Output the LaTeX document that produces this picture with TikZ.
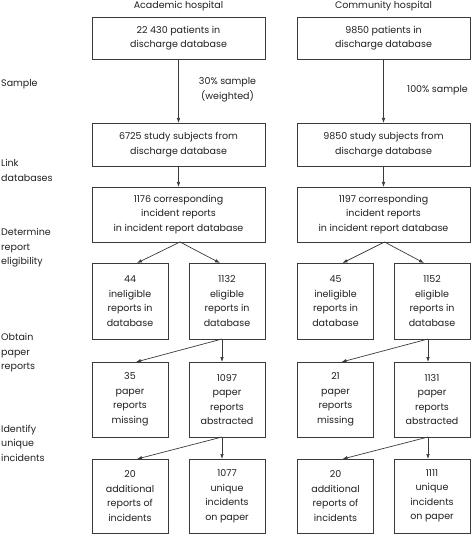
\documentclass[tikz,border=0pt]{standalone}
\usepackage{fontspec}
\setmainfont{Poppins}
\usetikzlibrary{arrows.meta}
\definecolor{boxc}{HTML}{3A3A3A}
\definecolor{txt}{HTML}{231F20}
\newcommand\boxfont{\fontsize{9.5}{14.5}\selectfont}
\begin{document}
\begin{tikzpicture}[x=1pt,y=-1pt,
  box/.style={draw=boxc, line width=0.9pt, inner sep=0pt, outer sep=0pt, align=center, font=\boxfont, text=txt},
  wide/.style={box, minimum width=173pt},
  small/.style={box, minimum width=76pt},
  lbl/.style={inner sep=0pt, font=\boxfont, text=txt, align=center},
  side/.style={inner sep=0pt, font=\boxfont, text=txt, align=left, anchor=west},
  arr/.style={draw=boxc, line width=0.7pt, -{Latex[length=5pt,width=3.6pt]}}]
\useasboundingbox (0,0) rectangle (471,534);
% headers
\node[lbl] (hA) at (178.5,6) {Academic hospital};
\node[lbl] (hC) at (383.5,6) {Community hospital};
% side labels
\node[side] (s1) at (1,84) {Sample};
\node[side] (s2) at (1,170.5) {Link\\databases};
\node[side] (s3) at (1,248) {Determine\\report\\eligibility};
\node[side] (s4) at (1,353) {Obtain\\paper\\reports};
\node[side] (s5) at (1,443) {Identify\\unique\\incidents};
% academic column
\node[wide, minimum height=42pt] (a1) at (178.5,38) {22 430 patients in\\discharge database};
\node[wide, minimum height=43pt] (a2) at (178.5,144.5) {6725 study subjects from\\discharge database};
\node[wide, minimum height=55pt] (a3) at (178.5,214.5) {1176 corresponding\\incident reports\\in incident report database};
\node[small, minimum height=76pt] (a4) at (130,301) {44\\ineligible\\reports in\\database};
\node[small, minimum height=76pt] (a5) at (227,301) {1132\\eligible\\reports in\\database};
\node[small, minimum height=75pt] (a6) at (130,399.5) {35\\paper\\reports\\missing};
\node[small, minimum height=75pt] (a7) at (227,399.5) {1097\\paper\\reports\\abstracted};
\node[small, minimum height=74pt] (a8) at (130,496) {20\\additional\\reports of\\incidents};
\node[small, minimum height=74pt] (a9) at (227,496) {1077\\unique\\incidents\\on paper};
% community column
\node[wide, minimum height=42pt] (c1) at (383.5,38) {9850 patients in\\discharge database};
\node[wide, minimum height=43pt] (c2) at (383.5,144.5) {9850 study subjects from\\discharge database};
\node[wide, minimum height=55pt] (c3) at (383.5,214.5) {1197 corresponding\\incident reports\\in incident report database};
\node[small, minimum height=76pt] (c4) at (335.5,301) {45\\ineligible\\reports in\\database};
\node[small, minimum height=76pt] (c5) at (432,301) {1152\\eligible\\reports in\\database};
\node[small, minimum height=75pt] (c6) at (335.5,399.5) {21\\paper\\reports\\missing};
\node[small, minimum height=75pt] (c7) at (432,399.5) {1131\\paper\\reports\\abstracted};
\node[small, minimum height=74pt] (c8) at (335.5,496) {20\\additional\\reports of\\incidents};
\node[small, minimum height=74pt] (c9) at (432,496) {1111\\unique\\incidents\\on paper};
% arrow labels
\node[lbl] (l1) at (227.5,90) {30\% sample\\(weighted)};
\node[lbl] (l2) at (437.5,90) {100\% sample};
% connectors academic
\draw[arr] (a1) -- (a2);
\draw[arr] (a2) -- (a3);
\draw[arr] ([xshift=1.5pt]a3.south) -- ([xshift=7pt]a4.north);
\draw[arr] ([xshift=1.5pt]a3.south) -- ([xshift=-7pt]a5.north);
\draw[arr] ([xshift=-5pt]a5.south) -- ([xshift=6pt]a6.north);
\draw[arr] ([xshift=-5pt]a5.south) -- ([xshift=-5pt]a7.north);
\draw[arr] ([xshift=-5pt]a7.south) -- ([xshift=7pt]a8.north);
\draw[arr] ([xshift=-5pt]a7.south) -- ([xshift=-5pt]a9.north);
% connectors community
\draw[arr] (c1) -- (c2);
\draw[arr] (c2) -- (c3);
\draw[arr] ([xshift=1pt]c3.south) -- ([xshift=7pt]c4.north);
\draw[arr] ([xshift=1pt]c3.south) -- ([xshift=-8pt]c5.north);
\draw[arr] ([xshift=-4pt]c5.south) -- ([xshift=6pt]c6.north);
\draw[arr] ([xshift=-4pt]c5.south) -- ([xshift=-4pt]c7.north);
\draw[arr] ([xshift=-4pt]c7.south) -- ([xshift=7pt]c8.north);
\draw[arr] ([xshift=-4pt]c7.south) -- ([xshift=-4pt]c9.north);
\end{tikzpicture}
\end{document}
